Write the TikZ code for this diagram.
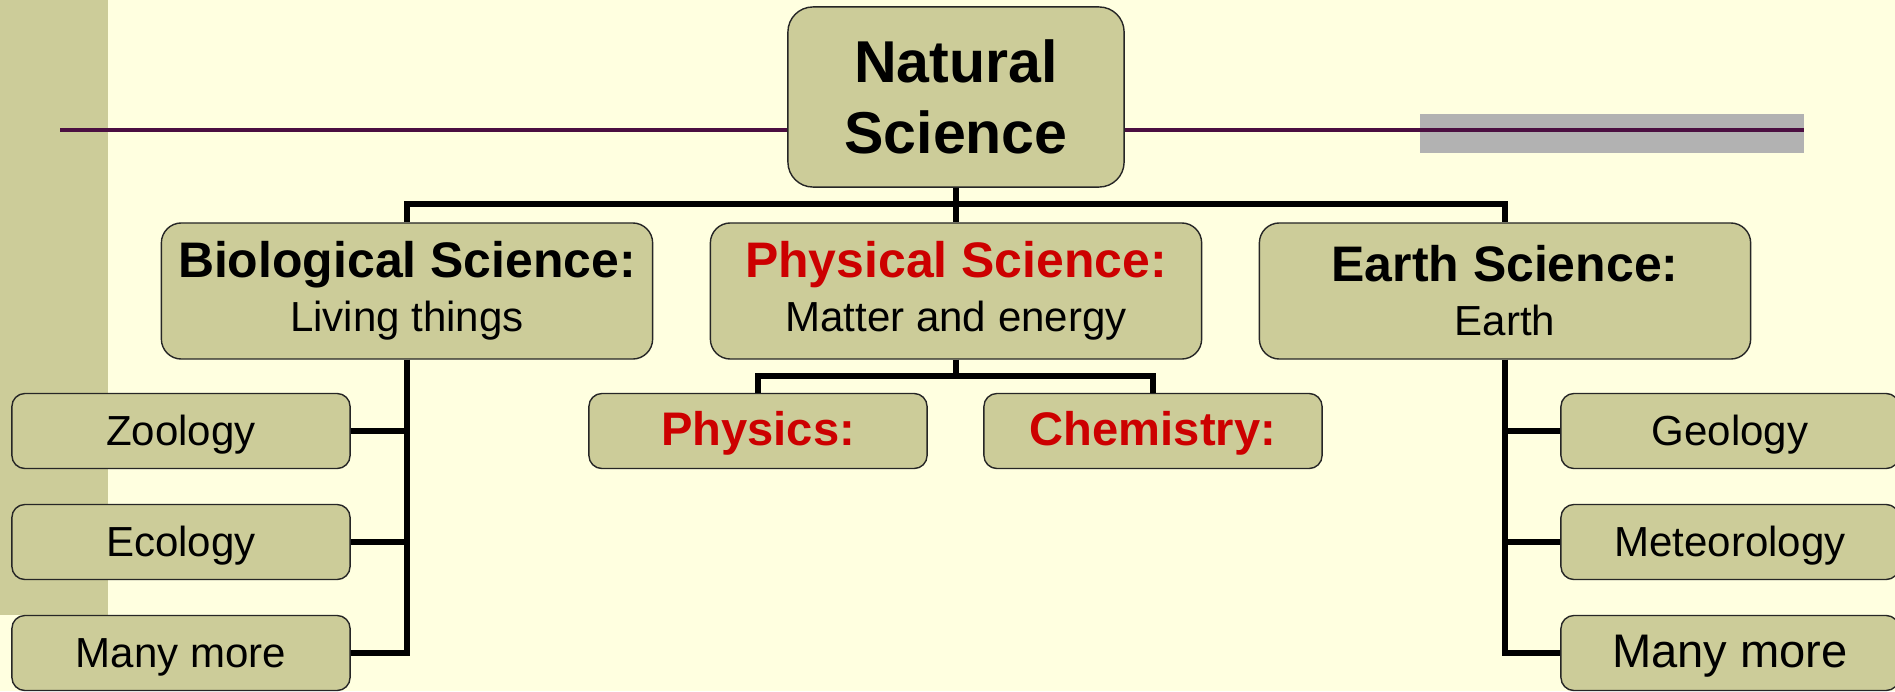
\documentclass[tikz,border=0pt]{standalone}
\usepackage{fontspec}
\setmainfont{Liberation Sans}
\definecolor{paper}{RGB}{255,255,224}
\definecolor{khaki}{RGB}{204,204,153}
\definecolor{plum}{RGB}{75,15,65}
\definecolor{band}{RGB}{178,178,178}
\definecolor{redhead}{RGB}{204,0,0}
\begin{document}
\begin{tikzpicture}[x=0.01cm, y=-0.01cm,
        box/.style={draw=black!85, line width=0.4pt, fill=khaki, inner sep=0pt, align=center},
        topbox/.style={box, rounded corners=0.25cm, minimum width=3.36cm, minimum height=1.80cm, font=\bfseries\fontsize{16.8}{20}\selectfont},
        midbox/.style={box, rounded corners=0.2cm, minimum width=4.91cm, minimum height=1.36cm, font=\fontsize{11.95}{15.4}\selectfont},
        leafbox/.style={box, rounded corners=0.13cm, minimum width=3.38cm, minimum height=0.75cm, text height=0.32cm, text depth=0.04cm, font=\fontsize{11.95}{14}\selectfont},
        redleaf/.style={leafbox, text=redhead, font=\bfseries\fontsize{13.4}{14}\selectfont},
        link/.style={line width=1.5pt, black}]
    % page and slide decoration
    \fill[paper] (0, 0) rectangle (1895, 691);
    \clip (0, 0) rectangle (1895, 691);
    \fill[khaki] (0, 0) rectangle (108, 615);
    \fill[band] (1420, 114) rectangle (1804, 153);
    \draw[plum, line width=1.1pt] (60, 130) -- (1804, 130);
    % main boxes
    \node[topbox] (ns) at (956, 97) {Natural\\Science};
    \node[midbox] (bio) at (407, 291) {{\bfseries\fontsize{14.2}{15.4}\selectfont Biological Science:}\\Living things};
    \node[midbox] (phys) at (956, 291) {{\bfseries\fontsize{14.2}{15.4}\selectfont\color{redhead} Physical Science:}\\Matter and energy};
    \node[midbox] (earth) at (1505, 291) {{\bfseries\fontsize{14.2}{15.4}\selectfont Earth Science:}\\Earth};
    \coordinate (bus) at (956, 204);
    \coordinate (pbus) at (956, 376);
    % physical science branch
    \node[redleaf] (physics) at (758, 431) {Physics:};
    \node[redleaf] (chem) at (1153, 431) {Chemistry:};
    % left and right branches
    \foreach \nm/\yy/\txt in {zoo/431/Zoology, eco/542/Ecology, lmore/653/Many more}
        \node[leafbox] (\nm) at (181, \yy) {\txt};
    \node[leafbox] (geo) at (1730, 431) {Geology};
    \node[leafbox] (met) at (1730, 542) {Meteorology};
    \node[leafbox, font=\fontsize{13.4}{14}\selectfont] (rmore) at (1730, 653) {Many more};
    % connectors
    \draw[link] (ns.south) -- (phys.north);
    \draw[link] (bio.north) |- (bus) -| (earth.north);
    \draw[link] (phys.south) -- (pbus);
    \draw[link] (physics.north) |- (pbus) -| (chem.north);
    \draw[link] (bio.south) |- (lmore.east);
    \draw[link] (earth.south) |- (rmore.west);
    \foreach \nm in {zoo, eco} \draw[link] (\nm.east) -- (\nm.east -| bio.south);
    \foreach \nm in {geo, met} \draw[link] (\nm.west) -- (\nm.west -| earth.south);
\end{tikzpicture}
\end{document}
